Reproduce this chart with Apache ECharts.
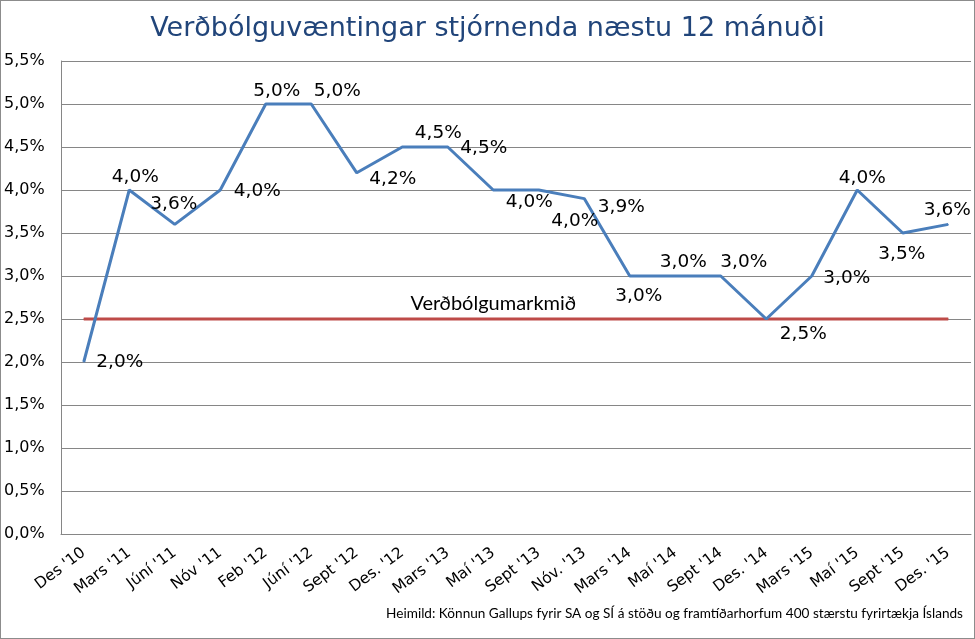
<!DOCTYPE html>
<html>
<head>
<meta charset="utf-8">
<script src="https://cdn.jsdelivr.net/npm/echarts@6/dist/echarts.min.js"></script>
<style>
html,body{margin:0;padding:0;background:#fff;}
#c{width:973px;height:637px;border:1px solid #8c8c8c;}
</style>
</head>
<body>
<div id="c"></div>
<script>
const categories = ["Des '10","Mars '11","Júní '11","Nóv '11","Feb '12","Júní '12","Sept '12","Des. '12","Mars '13","Maí '13","Sept '13","Nóv. '13","Mars '14","Maí '14","Sept '14","Des. '14","Mars '15","Maí '15","Sept '15","Des. '15"];
const expectations = [2.0,4.0,3.6,4.0,5.0,5.0,4.2,4.5,4.5,4.0,4.0,3.9,3.0,3.0,3.0,2.5,3.0,4.0,3.5,3.6];
const targetValue = 2.5;
const targetName = "Verðbólgumarkmið";
const titleText = "Verðbólguvæntingar stjórnenda næstu 12 mánuði";
const sourceText = "Heimild: Könnun Gallups fyrir SA og SÍ á stöðu og framtíðarhorfum 400 stærstu fyrirtækja Íslands";

// label offsets (style): [dx, dy] of label centre from point
const labelOffsets = [[36,0],[6,-13],[-1,-20],[37,1],[11,-13],[26,-13],[36,6],[36,-14],[36,1],[36,12],[36,31],[37,9],[9,20],[8,-14],[23,-14],[37,15],[35,2],[5,-12],[-1,21],[-1,-14]];

const fmt = v => v.toFixed(1).replace('.', ',') + '%';

const chart = echarts.init(document.getElementById('c'), null, {renderer:'canvas'});
chart.setOption({
  animation:false,
  title:[{
    text:titleText, left:'center', top:9,
    textStyle:{fontFamily:'DejaVu Sans', fontSize:27, fontWeight:'normal', color:'#21457a'}
  },{
    text:sourceText, right:6, bottom:12,
    textStyle:{fontFamily:'Lato', fontSize:13.6, fontWeight:'normal', color:'#000'}
  }],
  grid:{left:60, right:3, top:60, bottom:104, containLabel:false},
  xAxis:{
    type:'category', data:categories, boundaryGap:true,
    axisLine:{lineStyle:{color:'#868686', width:1}},
    axisTick:{show:false},
    axisLabel:{interval:0, rotate:37, color:'#000', fontFamily:'DejaVu Sans', fontSize:15.5, margin:17}
  },
  yAxis:{
    type:'value', min:0, max:5.5, interval:0.5,
    axisLine:{show:true, lineStyle:{color:'#868686', width:1}},
    axisTick:{show:false},
    splitLine:{lineStyle:{color:'#868686', width:1}},
    axisLabel:{formatter:fmt, color:'#000', fontFamily:'DejaVu Sans', fontSize:16, align:'left', margin:57}
  },
  series:[{
    name:targetName, type:'line',
    data:categories.map((c,i)=>({value:targetValue, label:{show:i===9}})),
    symbol:'circle', symbolSize:1, showSymbol:true,
    lineStyle:{color:'#be4b48', width:3},
    itemStyle:{color:'#be4b48'},
    label:{position:'top', distance:5, formatter:()=>targetName, color:'#000', fontFamily:'Lato', fontSize:20},
    z:2
  },{
    name:'Væntingar', type:'line',
    data:expectations.map((v,i)=>({value:v, label:{offset:labelOffsets[i]}})),
    symbol:'circle', symbolSize:1, showSymbol:true,
    lineStyle:{color:'#4a7ebb', width:3},
    itemStyle:{color:'#4a7ebb'},
    label:{show:true, position:'inside', align:'center', verticalAlign:'middle',
      formatter:p=>fmt(p.value), color:'#000', fontFamily:'DejaVu Sans', fontSize:18.5},
    z:3
  }]
});
</script>
</body>
</html>
